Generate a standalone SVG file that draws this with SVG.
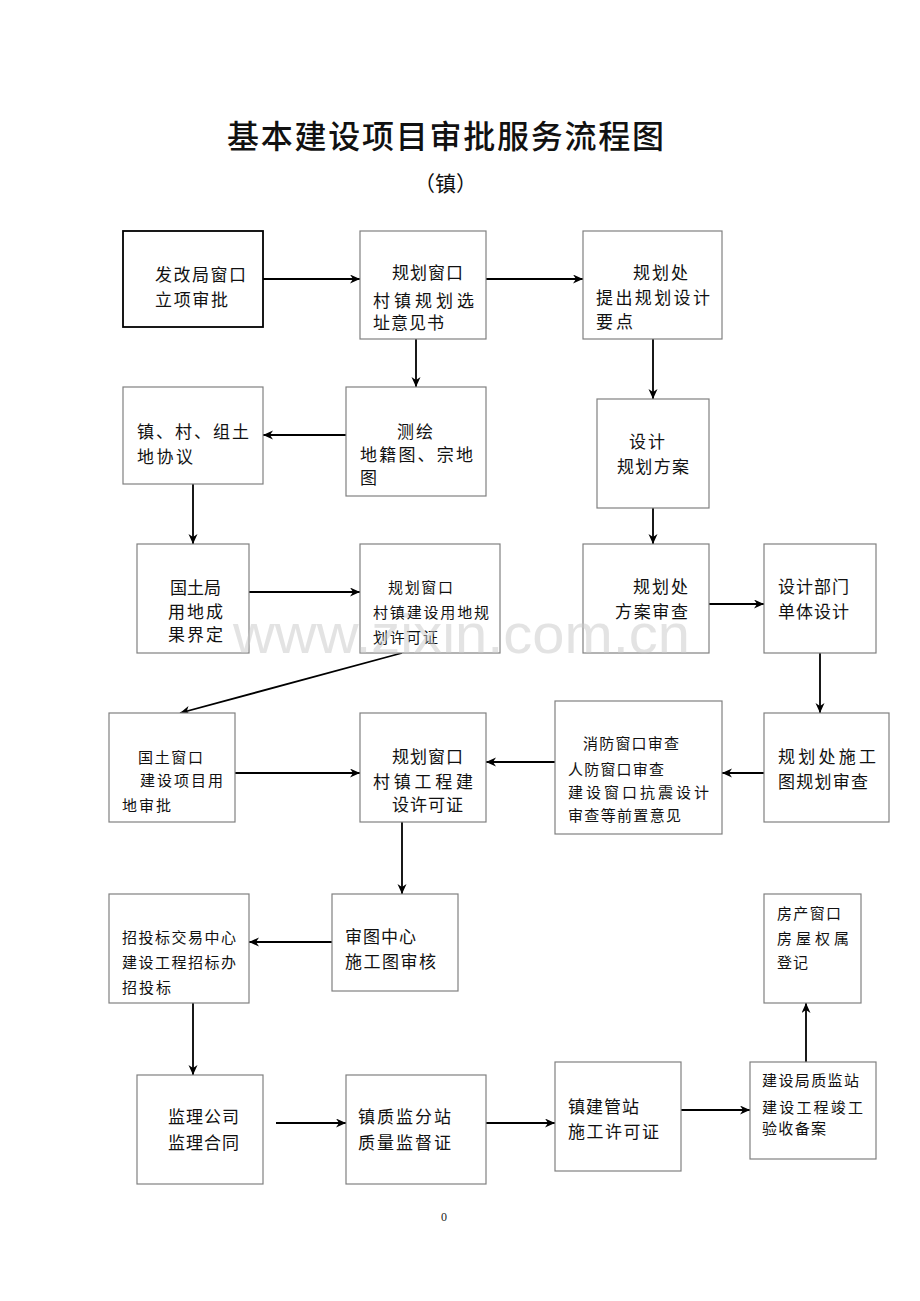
<svg xmlns="http://www.w3.org/2000/svg" width="920" height="1301" viewBox="0 0 920 1301">
<defs>
<marker id="arr" markerUnits="userSpaceOnUse" markerWidth="12" markerHeight="10" refX="10" refY="4.5" orient="auto">
<path d="M0,0 L10,4.5 L0,9 L3,4.5 z" fill="#000"/>
</marker>
<style>
.box{fill:#fff;stroke:#808080;stroke-width:1.2}
.box1{fill:#fff;stroke:#000;stroke-width:1.8}
text{font-family:"Noto Sans CJK SC","Noto Sans CJK JP",sans-serif;fill:#111}
.t{font-size:17px}
.s{font-size:15px}
.c line{stroke:#000;stroke-width:1.8;marker-end:url(#arr)}
.wm{font-family:"Liberation Sans",Arial,sans-serif;font-size:55px;fill:#c8c8c8;fill-opacity:0.5}
</style>
</defs>
<rect width="920" height="1301" fill="#fff"/>
<text x="227" y="148" style="font-size:32px;font-weight:500" textLength="437">基本建设项目审批服务流程图</text>
<text x="414" y="191" style="font-size:21px">（镇）</text>
<text x="441" y="1221" style="font-family:'Liberation Serif',serif;font-size:12px;fill:#222">0</text>

<g class="c">
<line x1="263" y1="279" x2="360" y2="279"/>
<line x1="486" y1="279" x2="583" y2="279"/>
<line x1="416" y1="339" x2="416" y2="387"/>
<line x1="346" y1="435" x2="263" y2="435"/>
<line x1="653" y1="339" x2="653" y2="399"/>
<line x1="193" y1="484" x2="193" y2="544"/>
<line x1="653" y1="508" x2="653" y2="544"/>
<line x1="249" y1="592" x2="360" y2="592"/>
<line x1="709" y1="604" x2="764" y2="604"/>
<line x1="402" y1="653" x2="180" y2="713"/>
<line x1="820" y1="653" x2="820" y2="713"/>
<line x1="764" y1="773" x2="722" y2="773"/>
<line x1="555" y1="762" x2="486" y2="762"/>
<line x1="235" y1="773" x2="360" y2="773"/>
<line x1="402" y1="822" x2="402" y2="894"/>
<line x1="332" y1="942" x2="249" y2="942"/>
<line x1="193" y1="1003" x2="193" y2="1075"/>
<line x1="276" y1="1123" x2="346" y2="1123"/>
<line x1="486" y1="1123" x2="555" y2="1123"/>
<line x1="681" y1="1110" x2="750" y2="1110"/>
<line x1="806" y1="1062" x2="806" y2="1003"/>
</g>

<g id="n1"><rect class="box1" x="123" y="231" width="140" height="96"/>
<text class="t" x="155" y="281" textLength="91">发改局窗口</text>
<text class="t" x="155" y="306" textLength="73">立项审批</text></g>

<g id="n2"><rect class="box" x="360" y="231" width="126" height="108"/>
<text class="t" x="392" y="279" textLength="71">规划窗口</text>
<text class="t" x="373" y="307" textLength="101">村镇规划选</text>
<text class="t" x="373" y="329" textLength="71">址意见书</text></g>

<g id="n3"><rect class="box" x="583" y="231" width="139" height="108"/>
<text class="t" x="633" y="279" textLength="55">规划处</text>
<text class="t" x="596" y="304" textLength="114">提出规划设计</text>
<text class="t" x="596" y="328" textLength="37">要点</text></g>

<g id="n4"><rect class="box" x="123" y="387" width="140" height="97"/>
<text class="t" x="137" y="438" textLength="112">镇、村、组土</text>
<text class="t" x="137" y="463" textLength="56">地协议</text></g>

<g id="n5"><rect class="box" x="346" y="387" width="140" height="109"/>
<text class="t" x="397" y="438" textLength="36">测绘</text>
<text class="t" x="360" y="461" textLength="113">地籍图、宗地</text>
<text class="t" x="360" y="484">图</text></g>

<g id="n6"><rect class="box" x="597" y="399" width="112" height="109"/>
<text class="t" x="629" y="448" textLength="36">设计</text>
<text class="t" x="617" y="473" textLength="72">规划方案</text></g>

<g id="n7"><rect class="box" x="137" y="544" width="112" height="109"/>
<text class="t" x="170" y="594" textLength="51">国土局</text>
<text class="t" x="168" y="618" textLength="55">用地成</text>
<text class="t" x="168" y="641" textLength="55">果界定</text></g>

<g id="n8"><rect class="box" x="360" y="544" width="140" height="109"/>
<text class="s" x="388" y="593" textLength="65">规划窗口</text>
<text class="s" x="373" y="618" textLength="116">村镇建设用地规</text>
<text class="s" x="373" y="643" textLength="65">划许可证</text></g>

<g id="n9"><rect class="box" x="583" y="544" width="126" height="109"/>
<text class="t" x="633" y="593" textLength="55">规划处</text>
<text class="t" x="615" y="618" textLength="73">方案审查</text></g>

<g id="n10"><rect class="box" x="764" y="544" width="112" height="109"/>
<text class="t" x="778" y="593" textLength="71">设计部门</text>
<text class="t" x="778" y="618" textLength="71">单体设计</text></g>

<g id="n11"><rect class="box" x="109" y="713" width="126" height="109"/>
<text class="s" x="138" y="763" textLength="65">国土窗口</text>
<text class="s" x="140" y="786" textLength="83">建设项目用</text>
<text class="s" x="122" y="811" textLength="49">地审批</text></g>

<g id="n12"><rect class="box" x="360" y="713" width="126" height="109"/>
<text class="t" x="392" y="763" textLength="71">规划窗口</text>
<text class="t" x="373" y="788" textLength="100">村镇工程建</text>
<text class="t" x="392" y="811" textLength="71">设许可证</text></g>

<g id="n13"><rect class="box" x="555" y="701" width="167" height="133"/>
<text class="s" x="583" y="749" textLength="96">消防窗口审查</text>
<text class="s" x="568" y="775" textLength="96">人防窗口审查</text>
<text class="s" x="568" y="798" textLength="141">建设窗口抗震设计</text>
<text class="s" x="568" y="821" textLength="113">审查等前置意见</text></g>

<g id="n14"><rect class="box" x="764" y="713" width="125" height="109"/>
<text class="t" x="778" y="763" textLength="98">规划处施工</text>
<text class="t" x="778" y="788" textLength="90">图规划审查</text></g>

<g id="n15"><rect class="box" x="109" y="894" width="140" height="109"/>
<text class="s" x="122" y="943" textLength="114">招投标交易中心</text>
<text class="s" x="122" y="968" textLength="114">建设工程招标办</text>
<text class="s" x="122" y="993" textLength="49">招投标</text></g>

<g id="n16"><rect class="box" x="332" y="894" width="126" height="97"/>
<text class="t" x="345" y="943" textLength="71">审图中心</text>
<text class="t" x="345" y="968" textLength="91">施工图审核</text></g>

<g id="n17"><rect class="box" x="764" y="894" width="97" height="109"/>
<text class="s" x="777" y="919" textLength="64">房产窗口</text>
<text class="s" x="777" y="944" textLength="72">房屋权属</text>
<text class="s" x="777" y="968" textLength="31">登记</text></g>

<g id="n18"><rect class="box" x="137" y="1075" width="126" height="109"/>
<text class="t" x="168" y="1123" textLength="71">监理公司</text>
<text class="t" x="168" y="1149" textLength="71">监理合同</text></g>

<g id="n19"><rect class="box" x="346" y="1075" width="140" height="109"/>
<text class="t" x="358" y="1123" textLength="93">镇质监分站</text>
<text class="t" x="358" y="1149" textLength="93">质量监督证</text></g>

<g id="n20"><rect class="box" x="555" y="1062" width="126" height="109"/>
<text class="t" x="568" y="1113" textLength="71">镇建管站</text>
<text class="t" x="568" y="1138" textLength="91">施工许可证</text></g>

<g id="n21"><rect class="box" x="750" y="1062" width="126" height="97"/>
<text class="s" x="762" y="1086" textLength="97">建设局质监站</text>
<text class="s" x="762" y="1113" textLength="101">建设工程竣工</text>
<text class="s" x="762" y="1134" textLength="64">验收备案</text></g>

<text class="wm" x="233" y="653" textLength="457" lengthAdjust="spacingAndGlyphs">www.zixin.com.cn</text>
</svg>
